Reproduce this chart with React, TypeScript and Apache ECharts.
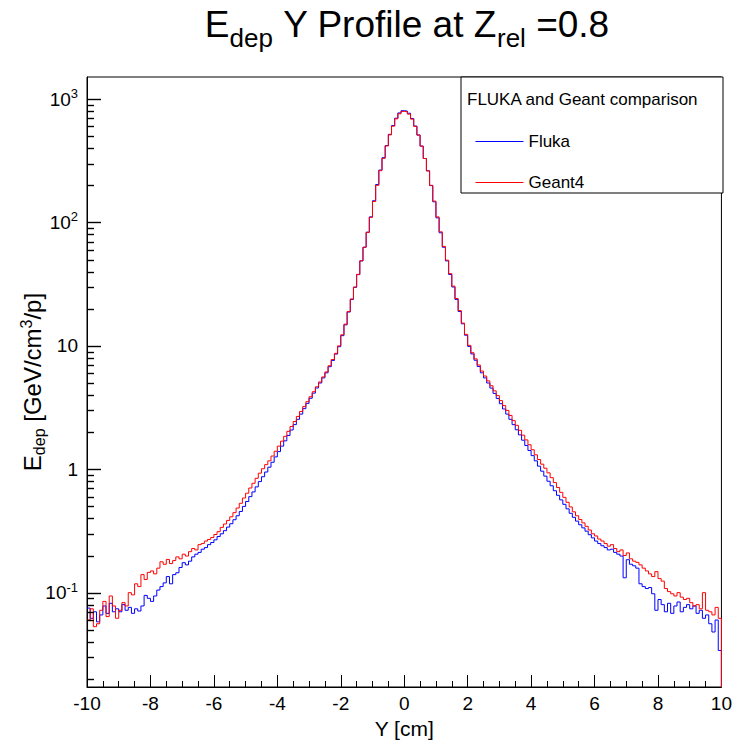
import React, { useEffect, useRef } from "react";
import * as echarts from "echarts";

// Histogram binning (bin low edges start at X_MIN, width BIN_WIDTH)
const X_MIN = -10;
const X_MAX = 10;
const BIN_WIDTH = 0.1;
const X_TICK_INTERVAL = 2;
const Y_MIN = 0.0172;
const Y_MAX = 1510;

const SERIES_NAMES = ["Fluka", "Geant4"];
const LEGEND_TITLE = "FLUKA and Geant comparison";

// Fluka (blue), 200 bins from -10 to 10 cm
const FLUKA = [
  0.075, 0.062, 0.070, 0.058, 0.066, 0.078, 0.068, 0.082, 0.070, 0.074,
  0.070, 0.080, 0.072, 0.076, 0.068, 0.074, 0.071, 0.078, 0.095, 0.090,
  0.085, 0.094, 0.105, 0.112, 0.120, 0.135, 0.118, 0.140, 0.145, 0.160,
  0.175, 0.168, 0.180, 0.195, 0.205, 0.212, 0.225, 0.232, 0.245, 0.255,
  0.268, 0.285, 0.300, 0.318, 0.340, 0.362, 0.390, 0.420, 0.455, 0.500,
  0.548, 0.600, 0.655, 0.720, 0.795, 0.870, 0.950, 1.04, 1.14, 1.26,
  1.39, 1.54, 1.70, 1.88, 2.08, 2.30, 2.54, 2.80, 3.10, 3.42,
  3.76, 4.14, 4.56, 5.00, 5.50, 6.05, 6.78, 7.62, 8.58, 9.85,
  12.1, 14.8, 18.8, 23.8, 29.8, 37.8, 48.8, 63.0, 83.5, 111,
  150, 203, 266, 335, 420, 518, 610, 700, 772, 805,
  800, 768, 696, 605, 512, 416, 330, 262, 199, 147,
  109, 82.5, 63.0, 48.8, 37.9, 30.0, 23.8, 19.0, 15.1, 12.2,
  9.9, 8.6, 7.65, 6.80, 6.05, 5.50, 5.00, 4.55, 4.12, 3.75,
  3.40, 3.08, 2.80, 2.54, 2.30, 2.09, 1.90, 1.72, 1.56, 1.42,
  1.29, 1.17, 1.06, 0.965, 0.880, 0.800, 0.735, 0.670, 0.615, 0.565,
  0.520, 0.478, 0.440, 0.408, 0.380, 0.355, 0.335, 0.315, 0.295, 0.278,
  0.262, 0.250, 0.240, 0.232, 0.222, 0.225, 0.212, 0.205, 0.198, 0.132,
  0.185, 0.170, 0.165, 0.158, 0.118, 0.112, 0.108, 0.110, 0.098, 0.072,
  0.088, 0.080, 0.070, 0.082, 0.068, 0.078, 0.084, 0.070, 0.076, 0.080,
  0.074, 0.078, 0.068, 0.072, 0.062, 0.066, 0.056, 0.048, 0.060, 0.034,
];

// Geant4 (red), 200 bins from -10 to 10 cm
const GEANT4 = [
  0.060, 0.074, 0.053, 0.056, 0.072, 0.085, 0.064, 0.094, 0.078, 0.062,
  0.072, 0.083, 0.078, 0.100, 0.096, 0.118, 0.112, 0.140, 0.128, 0.146,
  0.150, 0.142, 0.158, 0.178, 0.170, 0.186, 0.172, 0.182, 0.195, 0.188,
  0.205, 0.198, 0.215, 0.228, 0.222, 0.245, 0.250, 0.262, 0.270, 0.280,
  0.296, 0.312, 0.338, 0.360, 0.385, 0.412, 0.445, 0.485, 0.530, 0.585,
  0.640, 0.705, 0.770, 0.845, 0.930, 1.01, 1.09, 1.17, 1.28, 1.40,
  1.54, 1.69, 1.85, 2.03, 2.22, 2.44, 2.68, 2.94, 3.22, 3.53,
  3.87, 4.25, 4.66, 5.10, 5.60, 6.15, 6.90, 7.75, 8.70, 10.0,
  12.3, 15.0, 19.0, 24.0, 30.0, 38.0, 49.0, 63.0, 83.0, 110,
  148, 200, 263, 331, 417, 513, 603, 692, 760, 795,
  790, 755, 688, 600, 510, 415, 330, 262, 200, 149,
  111, 84.0, 64.0, 49.5, 38.5, 30.5, 24.2, 19.3, 15.3, 12.4,
  10.1, 8.8, 7.85, 7.00, 6.25, 5.70, 5.20, 4.75, 4.32, 3.95,
  3.60, 3.28, 3.00, 2.73, 2.48, 2.27, 2.07, 1.89, 1.73, 1.58,
  1.44, 1.31, 1.20, 1.10, 1.02, 0.935, 0.855, 0.780, 0.712, 0.650,
  0.592, 0.540, 0.495, 0.452, 0.420, 0.392, 0.368, 0.345, 0.322, 0.300,
  0.288, 0.272, 0.262, 0.250, 0.238, 0.245, 0.228, 0.215, 0.222, 0.200,
  0.210, 0.188, 0.180, 0.176, 0.168, 0.158, 0.150, 0.142, 0.135, 0.148,
  0.130, 0.124, 0.108, 0.102, 0.098, 0.094, 0.100, 0.092, 0.088, 0.090,
  0.083, 0.078, 0.080, 0.074, 0.100, 0.072, 0.070, 0.066, 0.076, 0.062,
];

// Log-axis tick values (majors = decades, minors = 2..9 x decade) inside the y range
const Y_MAJOR_TICKS = [0.1, 1, 10, 100, 1000];
const Y_MINOR_TICKS = [
  0.02, 0.03, 0.04, 0.05, 0.06, 0.07, 0.08, 0.09,
  0.2, 0.3, 0.4, 0.5, 0.6, 0.7, 0.8, 0.9,
  2, 3, 4, 5, 6, 7, 8, 9,
  20, 30, 40, 50, 60, 70, 80, 90,
  200, 300, 400, 500, 600, 700, 800, 900,
];

const FONT = "'Liberation Sans', Arial, Helvetica, sans-serif";

function toSteps(vals: number[]): number[][] {
  const pts = vals.map((v, i) => [X_MIN + i * BIN_WIDTH, v]);
  pts.push([X_MAX, vals[vals.length - 1]]);
  pts.push([X_MAX, Y_MIN]);
  return pts;
}

const BASE_GRAPHIC: any[] = [
  {
    id: "title",
    type: "text",
    x: 407,
    y: 24,
    style: {
      text: "{m|E}{s|dep}{m| Y Profile at Z}{s|rel}{m| =0.8}",
      textAlign: "center",
      textVerticalAlign: "middle",
      rich: {
        m: { fontSize: 37, fontFamily: FONT, fill: "#000" },
        s: { fontSize: 26, fontFamily: FONT, fill: "#000", padding: [27, 0, 0, 0] },
      },
    },
  },
  {
    id: "legendBox",
    type: "rect",
    shape: { x: 461, y: 77, width: 262, height: 116 },
    style: { fill: "#fff", stroke: "#000", lineWidth: 1 },
    z: 10,
  },
  {
    id: "legendTitle",
    type: "text",
    x: 467,
    y: 99,
    style: {
      text: LEGEND_TITLE,
      font: "17px " + FONT,
      fill: "#000",
      textVerticalAlign: "middle",
    },
    z: 11,
  },
];

export default function App() {
  const ref = useRef<HTMLDivElement>(null);
  useEffect(() => {
    if (!ref.current) return;
    const chart = echarts.init(ref.current, null, { renderer: "svg" });
    chart.setOption({
      animation: false,
      backgroundColor: "#fff",
      grid: {
        left: 87,
        right: 12,
        top: 77,
        bottom: 57,
        show: true,
        borderColor: "#000",
        borderWidth: 1,
        containLabel: false,
      },
      legend: {
        data: SERIES_NAMES,
        orient: "vertical",
        left: 470,
        top: 128,
        itemWidth: 48,
        itemHeight: 14,
        itemGap: 24,
        z: 30,
        itemStyle: { opacity: 0 },
        lineStyle: { width: 1 },
        textStyle: { fontSize: 17, fontFamily: FONT, color: "#000" },
      },
      xAxis: {
        type: "value",
        min: X_MIN,
        max: X_MAX,
        interval: X_TICK_INTERVAL,
        name: "Y [cm]",
        nameLocation: "middle",
        nameGap: 28,
        nameTextStyle: { fontSize: 21, fontFamily: FONT, color: "#000" },
        axisLine: { show: true, onZero: false, lineStyle: { color: "#000", width: 1 } },
        axisTick: { show: true, inside: true, length: 12, lineStyle: { color: "#000" } },
        minorTick: { show: true, splitNumber: 4, length: 6, lineStyle: { color: "#000" } },
        axisLabel: { fontSize: 19, fontFamily: FONT, color: "#000", margin: 7 },
        splitLine: { show: false },
      },
      yAxis: {
        type: "log",
        logBase: 10,
        min: Y_MIN,
        max: Y_MAX,
        name: "{m|E}{s|dep}{m| [GeV/cm}{p|3}{m|/p]}",
        nameLocation: "middle",
        nameRotate: 90,
        nameGap: 40,
        nameMoveOverlap: false,
        nameTextStyle: {
          rich: {
            m: { fontSize: 24, fontFamily: FONT, color: "#000" },
            s: { fontSize: 16, fontFamily: FONT, color: "#000", padding: [13, 0, 0, 0] },
            p: { fontSize: 16, fontFamily: FONT, color: "#000", padding: [0, 0, 13, 0] },
          },
        },
        axisLine: { show: true, onZero: false, lineStyle: { color: "#000", width: 1 } },
        axisTick: { show: false },
        axisLabel: {
          margin: 9,
          showMinLabel: false,
          showMaxLabel: false,
          formatter: (v: number) => {
            const e = Math.round(Math.log10(v));
            if (e === 0) return "{b|1}";
            if (e === 1) return "{b|10}";
            return "{b|10}{p|" + e + "}";
          },
          rich: {
            b: { fontSize: 19, fontFamily: FONT, color: "#000" },
            p: { fontSize: 13, fontFamily: FONT, color: "#000", padding: [0, 0, 11, 0] },
          },
        },
        splitLine: { show: false },
      },
      graphic: BASE_GRAPHIC,
      series: [
        {
          name: "Fluka",
          type: "line",
          step: "end",
          data: toSteps(FLUKA),
          showSymbol: false,
          symbol: "none",
          color: "#0000ff",
          itemStyle: { color: "#0000ff" },
          lineStyle: { width: 1, color: "#0000ff" },
          z: 3,
        },
        {
          name: "Geant4",
          type: "line",
          step: "end",
          data: toSteps(GEANT4),
          showSymbol: false,
          symbol: "none",
          color: "#ff0000",
          itemStyle: { color: "#ff0000" },
          lineStyle: { width: 1, color: "#ff0000" },
          z: 4,
        },
      ],
    });

    // Log-axis ticks (ROOT style: decades long, 2..9 short), placed through the axis scales
    try {
      const x0 = chart.convertToPixel({ xAxisIndex: 0 }, X_MIN) as number;
      const tickEls: any[] = [];
      const addTicks = (vals: number[], len: number) => {
        vals.forEach((v) => {
          const y = chart.convertToPixel({ yAxisIndex: 0 }, v) as number;
          if (!isFinite(y) || !isFinite(x0)) return;
          const yy = Math.round(y) + 0.5;
          tickEls.push({
            type: "line",
            shape: { x1: x0, y1: yy, x2: x0 + len, y2: yy },
            style: { stroke: "#000", lineWidth: 1.4 },
            silent: true,
            z: 100,
          });
        });
      };
      addTicks(Y_MAJOR_TICKS, 14);
      addTicks(Y_MINOR_TICKS, 7);
      chart.setOption({
        graphic: [...BASE_GRAPHIC, { id: "yTicks", type: "group", z: 100, children: tickEls }],
      });
    } catch (e) {
      // keep chart even if tick placement fails
    }

    return () => chart.dispose();
  }, []);
  return (
    <div
      ref={ref}
      style={{ position: "absolute", left: 0, top: 0, width: 735, height: 744 }}
    />
  );
}
